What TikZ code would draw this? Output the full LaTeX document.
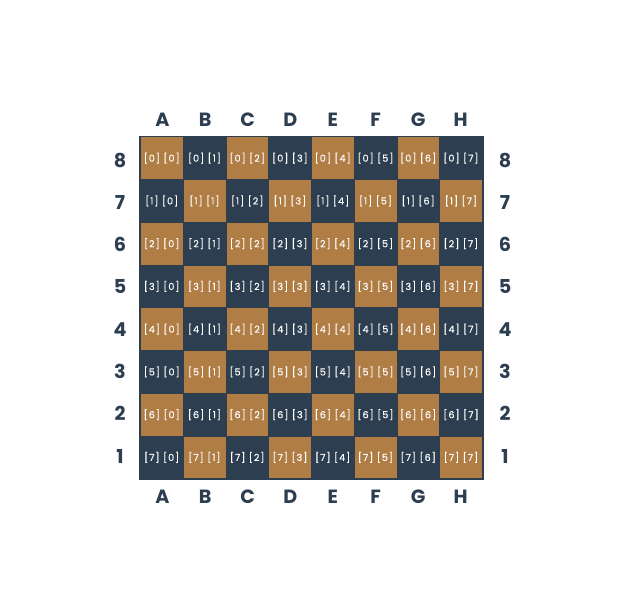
\documentclass[tikz,border=0pt]{standalone}
\usepackage{fontspec}
\setmainfont{Poppins}
\newfontfamily\celdafont[LetterSpace=10, FakeBold=0.3]{Poppins}
\definecolor{azul}{HTML}{2C3E50}
\definecolor{ocre}{HTML}{B07D45}

\begin{document}
\begin{tikzpicture}[x=0.6pt, y=-0.6pt,
    casilla/.style={draw=azul, line width=0.3pt, minimum size=25.65pt, inner sep=0pt,
      text=white, font=\celdafont\fontsize{5.8}{7}\selectfont},
    etiqueta/.style={text=azul, font=\bfseries\fontsize{11.5}{13}\selectfont}]
  \useasboundingbox (0,0) rectangle (625,616);
  % casillas del tablero: [fila] [columna]
  \foreach \r in {0,...,7}
    \foreach \c in {0,...,7} {
      \pgfmathtruncatemacro\paridad{mod(\r+\c,2)}
      \ifnum\paridad=0 \def\relleno{ocre}\else\def\relleno{azul}\fi
      \node[casilla, fill=\relleno] (c-\r-\c) at (161.7+42.75*\c, 158.1+42.75*\r) {[\r] [\c]};
    }
  % borde exterior
  \draw[azul, line width=1.1pt] (c-0-0.north west) rectangle (c-7-7.south east);
  % letras de las columnas
  \foreach \c/\letra in {0/A,1/B,2/C,3/D,4/E,5/F,6/G,7/H} {
    \node[etiqueta] (arriba-\c) at (162.5+42.6*\c, 120) {\letra};
    \node[etiqueta] (abajo-\c) at (162.5+42.6*\c, 497) {\letra};
  }
  % numeros de las filas
  \foreach \r in {0,...,7} {
    \pgfmathtruncatemacro\num{8-\r}
    \node[etiqueta] (izq-\r) at (120, 160+42.3*\r) {\num};
    \node[etiqueta] (der-\r) at (505, 160+42.3*\r) {\num};
  }
\end{tikzpicture}
\end{document}
